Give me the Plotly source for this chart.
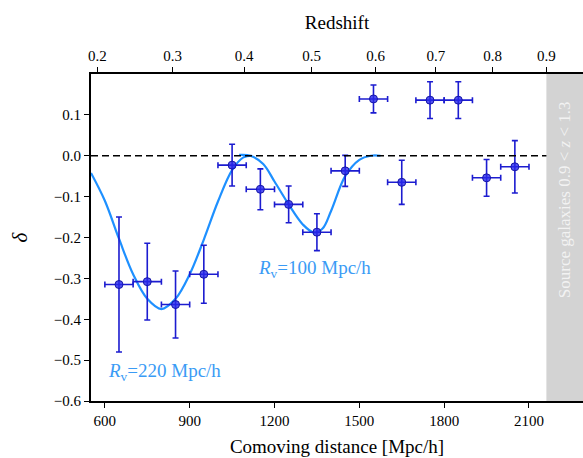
import numpy as np
import plotly.graph_objects as go

# ---- data ----
bin_centers = [650, 750, 850, 950, 1050, 1150, 1250, 1350, 1450, 1550, 1650, 1750, 1850, 1950, 2050]
bin_halfwidth = [50] * 15
delta = [-0.315, -0.308, -0.364, -0.290, -0.023, -0.082, -0.119, -0.187, -0.037, 0.139,
         -0.065, 0.136, 0.136, -0.054, -0.027]
delta_err = [0.165, 0.094, 0.082, 0.071, 0.051, 0.050, 0.045, 0.045, 0.038, 0.034,
             0.054, 0.045, 0.045, 0.045, 0.064]

# model profile Rv=220
model220_x = [551, 600, 650, 700, 750, 800, 850, 900, 950, 1000, 1050, 1090, 1120]
model220_y = [-0.042, -0.110, -0.203, -0.290, -0.350, -0.375, -0.350, -0.290, -0.205, -0.112, -0.035, -0.004, 0.0]
# model profile Rv=100
model100_x = [1075, 1115, 1160, 1200, 1250, 1300, 1340, 1370, 1400, 1450, 1500, 1540, 1575]
model100_y = [0.002, 0.0, -0.020, -0.063, -0.119, -0.168, -0.188, -0.178, -0.135, -0.050, -0.010, 0.0, 0.0]

z_ticks = [0.2, 0.3, 0.4, 0.5, 0.6, 0.7, 0.8, 0.9]
z_source_min = 0.9
x_ticks = [600, 900, 1200, 1500, 1800, 2100]
y_ticks = [-0.6, -0.5, -0.4, -0.3, -0.2, -0.1, 0.0, 0.1]

x_range = [551, 2291]
y_range = [-0.6, 0.2]

# comoving distance [Mpc/h] in flat LCDM for the redshift axis
def comoving(z, om=0.28):
    zz = np.linspace(0, z, 2001)
    ez = np.sqrt(om * (1 + zz) ** 3 + 1 - om)
    return 2997.92458 * np.trapezoid(1 / ez, zz)

z_pos = [comoving(z) for z in z_ticks]
d_source = comoving(z_source_min)

FONT = "Liberation Serif"
BLUE = "#1E90FF"

fig = go.Figure()

fig.add_trace(go.Scatter(x=model220_x, y=model220_y, mode="lines", line=dict(color=BLUE, width=2.2, shape="spline"),
                         hoverinfo="skip", showlegend=False))
fig.add_trace(go.Scatter(x=model100_x, y=model100_y, mode="lines", line=dict(color=BLUE, width=2.2, shape="spline"),
                         hoverinfo="skip", showlegend=False))

fig.add_trace(go.Scatter(
    x=bin_centers, y=delta, mode="markers",
    marker=dict(size=8, color="rgba(40,40,235,0.8)", line=dict(color="#1515a8", width=1)),
    error_x=dict(type="data", array=bin_halfwidth, color="#1c1cd0", thickness=1.6, width=3),
    error_y=dict(type="data", array=delta_err, color="#1c1cd0", thickness=1.6, width=3),
    showlegend=False))

# invisible trace to activate top axis
fig.add_trace(go.Scatter(x=[x_range[0]], y=[y_range[0]], xaxis="x2", mode="markers",
                         marker=dict(opacity=0), hoverinfo="skip", showlegend=False))

fig.add_shape(type="line", xref="paper", yref="y", x0=0, x1=1, y0=0, y1=0,
              line=dict(color="black", width=1.6, dash="7px,4px"), layer="above")
fig.add_shape(type="rect", xref="x", yref="paper", x0=d_source, x1=x_range[1], y0=0, y1=1,
              fillcolor="#d3d3d3", line=dict(width=0), layer="above")

fig.add_annotation(x=1133, y=-0.276, xref="x", yref="y", xanchor="left", yanchor="middle",
                   text="<i>R</i><sub>v</sub>=100 Mpc/h", showarrow=False,
                   font=dict(family=FONT, size=19, color="#3a9bf5"))
fig.add_annotation(x=603, y=-0.529, xref="x", yref="y", xanchor="left", yanchor="middle",
                   text="<i>R</i><sub>v</sub>=220 Mpc/h", showarrow=False,
                   font=dict(family=FONT, size=19, color="#3a9bf5"))
fig.add_annotation(x=(d_source + x_range[1]) / 2, y=-0.107, xref="x", yref="y", textangle=-90,
                   text="Source galaxies 0.9 &lt; <i>z</i> &lt; 1.3", showarrow=False,
                   font=dict(family=FONT, size=17, color="#f2f2f2"))

axis_common = dict(showline=True, linecolor="black", linewidth=2, ticks="outside", ticklen=5, tickwidth=1.3,
                   tickcolor="black", showgrid=False, zeroline=False,
                   tickfont=dict(family=FONT, size=15, color="black"))

fig.update_layout(
    width=583, height=458,
    margin=dict(l=91, r=0, t=74, b=57),
    paper_bgcolor="white", plot_bgcolor="white",
    xaxis=dict(range=x_range, tickvals=x_ticks, ticktext=[str(v) for v in x_ticks],
               title=dict(text="Comoving distance [Mpc/h]", font=dict(family=FONT, size=19, color="black"), standoff=12),
               **axis_common),
    xaxis2=dict(range=x_range, overlaying="x", side="top", tickvals=z_pos,
                ticktext=["%.1f" % z for z in z_ticks],
                title=dict(text="Redshift", font=dict(family=FONT, size=19, color="black"), standoff=13),
                **axis_common),
    yaxis=dict(range=y_range, tickvals=y_ticks, ticktext=["%.1f" % v if v >= 0 else "\u2212%.1f" % -v for v in y_ticks],
               title=dict(text="<i>δ</i>", font=dict(family=FONT, size=21, color="black"), standoff=20),
               **axis_common),
)

fig.write_html("out.html", config={"displayModeBar": False},
               post_script="document.body.style.margin='0';document.body.style.overflow='hidden';")
